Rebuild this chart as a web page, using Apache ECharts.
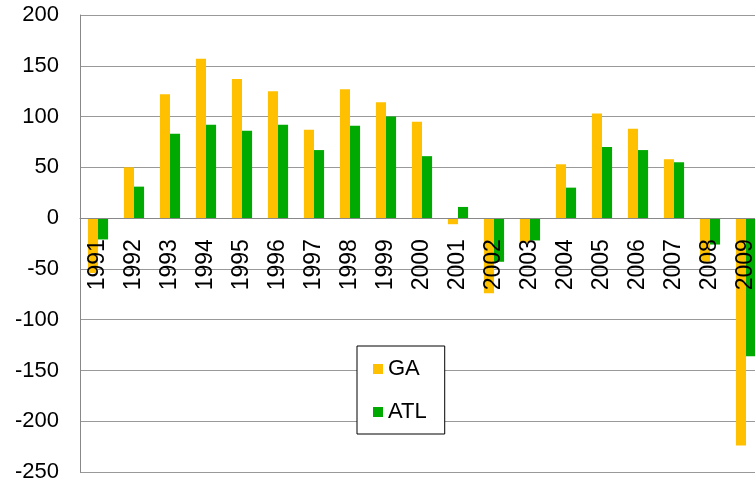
<!DOCTYPE html>
<html>
<head>
<meta charset="utf-8">
<script src="https://cdn.jsdelivr.net/npm/echarts@6/dist/echarts.min.js"></script>
<style>
  html, body { margin: 0; padding: 0; background: #fff; }
  #chart { width: 755px; height: 487px; }
</style>
</head>
<body>
<div id="chart"></div>
<script>
// years on the category axis
var years = ['1991', '1992', '1993', '1994', '1995', '1996', '1997', '1998', '1999', '2000',
    '2001', '2002', '2003', '2004', '2005', '2006', '2007', '2008', '2009'];
// values
var gaValues = [-54, 50, 122, 157, 137, 125, 87, 127, 114, 95,
    -6, -74, -24, 53, 103, 88, 58, -43, -224];
var atlValues = [-21, 31, 83, 92, 86, 92, 67, 91, 100, 61,
    11, -43, -22, 30, 70, 67, 55, -26, -136];
var seriesNames = ['GA', 'ATL'];
var yMin = -250;
var yMax = 200;

var font = 'Liberation Sans, Arial, sans-serif';
var chart = echarts.init(document.getElementById('chart'));

chart.setOption({
    animation: false,
    textStyle: { fontFamily: font },
    grid: {
        left: 80,
        right: -9,
        top: 15,
        bottom: 15,
        containLabel: false,
        outerBoundsMode: 'none'
    },
    legend: {
        data: seriesNames,
        orient: 'vertical',
        left: 357,
        top: 346,
        icon: 'rect',
        itemWidth: 10,
        itemHeight: 10,
        itemGap: 21,
        padding: [12, 18, 11, 16],
        borderColor: '#000',
        borderWidth: 1,
        borderRadius: 0,
        backgroundColor: '#fff',
        textStyle: {
            fontSize: 22,
            color: '#000',
            fontFamily: font
        }
    },
    xAxis: {
        type: 'category',
        data: years,
        z: 10,
        axisLine: {
            show: true,
            onZero: false,
            lineStyle: { color: '#888', width: 1 }
        },
        axisTick: { show: false },
        axisLabel: {
            rotate: 90,
            interval: 0,
            margin: 21,
            fontSize: 23,
            color: '#000',
            fontFamily: font
        }
    },
    yAxis: {
        type: 'value',
        min: yMin,
        max: yMax,
        interval: 50,
        axisLine: {
            show: true,
            lineStyle: { color: '#888' }
        },
        axisTick: { show: false },
        splitLine: {
            lineStyle: { color: '#999', width: 1 }
        },
        axisLabel: {
            margin: 21,
            fontSize: 22,
            color: '#000',
            fontFamily: font
        }
    },
    series: [{
        name: seriesNames[0],
        type: 'bar',
        data: gaValues,
        barGap: 0,
        barCategoryGap: '44%',
        itemStyle: { color: '#FFC000' }
    }, {
        name: seriesNames[1],
        type: 'bar',
        data: atlValues,
        barGap: 0,
        barCategoryGap: '44%',
        itemStyle: { color: '#00AA00' }
    }]
});

// move the category axis up to the zero line
var zeroY = chart.convertToPixel({ yAxisIndex: 0 }, 0);
var bottomY = chart.convertToPixel({ yAxisIndex: 0 }, yMin);
chart.setOption({ xAxis: { offset: zeroY - bottomY } });
</script>
</body>
</html>
